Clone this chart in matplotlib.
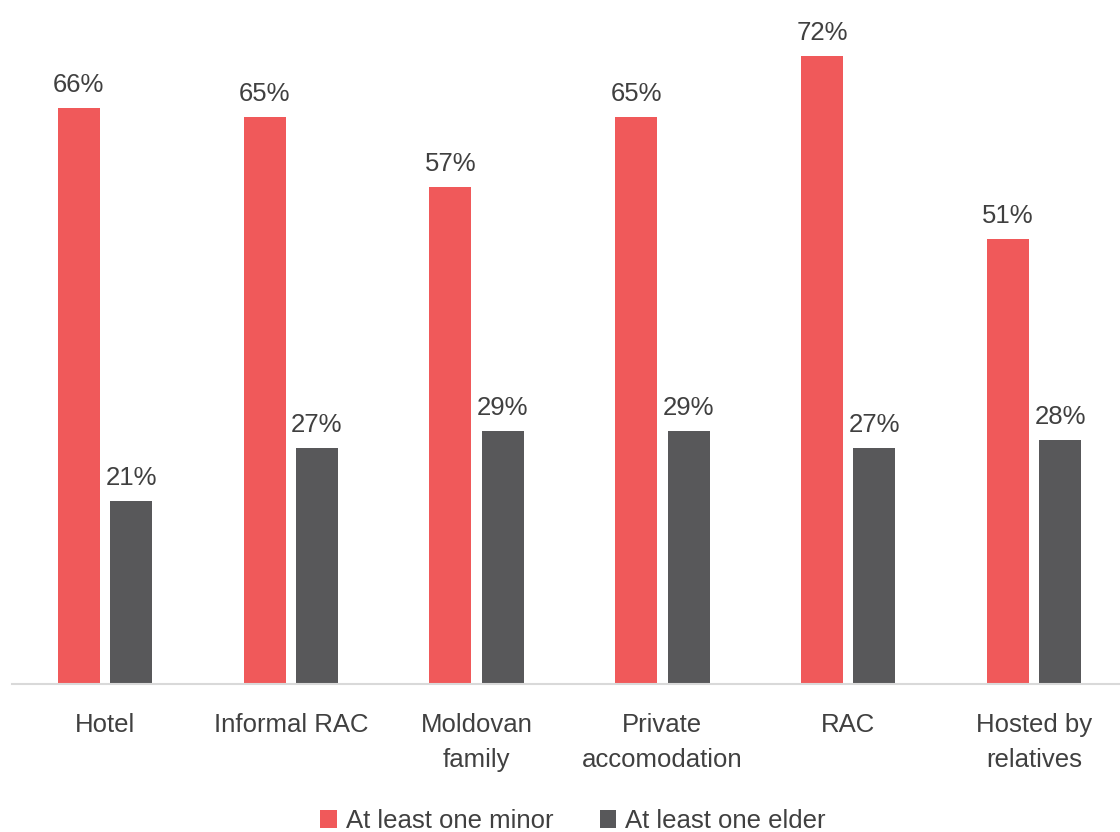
import matplotlib
matplotlib.use("Agg")
import matplotlib.pyplot as plt
import numpy as np
from matplotlib import font_manager

categories = ["Hotel", "Informal RAC", "Moldovan\nfamily", "Private\naccomodation", "RAC", "Hosted by\nrelatives"]
minor = [66, 65, 57, 65, 72, 51]
elder = [21, 27, 29, 29, 27, 28]
series_names = ["At least one minor", "At least one elder"]

names = {f.name for f in font_manager.fontManager.ttflist}
fam = ["Liberation Sans Narrow", "Liberation Sans", "DejaVu Sans"]
fam = [f for f in fam if f in names] + ["DejaVu Sans"]
plt.rcParams['font.family'] = fam

red = "#F0595A"
dark = "#58585A"
txt = "#404040"

fig = plt.figure(figsize=(11.2, 8.32), dpi=100)
ax = fig.add_axes([12/1120, (832-684)/832, 1115/1120, 684/832])
x = np.arange(len(categories))
w = 0.226
off = 0.141
b1 = ax.bar(x - off, minor, w, color=red)
b2 = ax.bar(x + off, elder, w, color=dark)
for bars, vals in ((b1, minor), (b2, elder)):
    for r, v in zip(bars, vals):
        ax.annotate(f"{v}%", (r.get_x() + r.get_width()/2, v), xytext=(0, 8),
                    textcoords="offset points", ha="center", va="bottom",
                    fontsize=18.5, color=txt)
ax.set_xlim(-0.5, len(categories) - 0.5)
ax.set_ylim(0, 78.4)
ax.set_yticks([])
ax.set_xticks(x)
ax.set_xticklabels(categories, fontsize=18.5, color=txt, linespacing=1.55)
ax.tick_params(axis='x', length=0, pad=21)
for s in ["top", "right", "left"]:
    ax.spines[s].set_visible(False)
ax.spines["bottom"].set_color("#D9D9D9")
ax.spines["bottom"].set_linewidth(1.5)
leg = fig.legend([b1, b2], series_names, loc="center", bbox_to_anchor=(573/1120, 1 - 821/832),
                 ncol=2, frameon=False, fontsize=18.5, handlelength=0.65, handleheight=0.65,
                 handletextpad=0.35, columnspacing=1.8)
for t in leg.get_texts():
    t.set_color(txt)
fig.savefig("out.png", dpi=100)
